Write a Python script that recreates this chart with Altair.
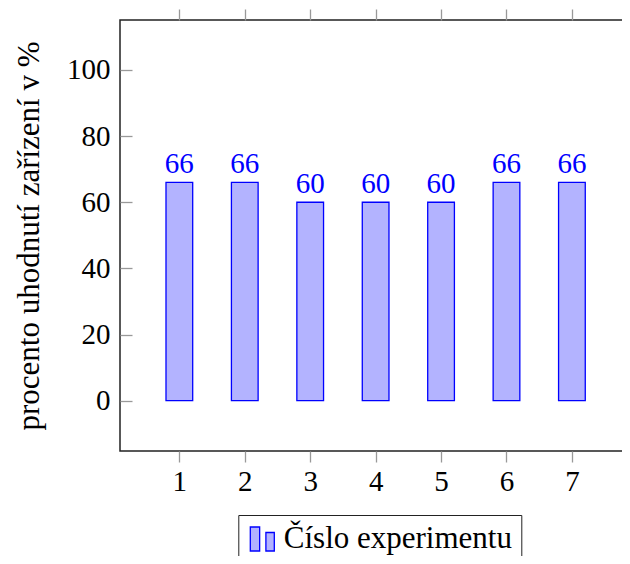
import altair as alt
import pandas as pd

experiments = [1, 2, 3, 4, 5, 6, 7]
percentages = [66, 66, 60, 60, 60, 66, 66]
series_name = "Číslo experimentu"
y_ticks = [0, 20, 40, 60, 80, 100]

df = pd.DataFrame({"exp": experiments, "pct": percentages, "series": [series_name] * len(experiments)})

FONT = "Liberation Serif"
FS = 29
xscale = alt.Scale(domain=[0.093, 8.01], nice=False, zero=False, padding=0)
yscale = alt.Scale(domain=[-15.2, 115.1], nice=False, zero=False)

legend_path = "M-1,-1H-0.22V1H-1Z M0.3,-0.54H1V1H0.3Z"

bars = alt.Chart(df).mark_bar(size=26.7, stroke="#0000ff", strokeWidth=1.3).encode(
    x=alt.X("exp:Q", scale=xscale,
            axis=alt.Axis(orient="bottom", values=experiments, format="d", tickSize=11,
                          tickColor="#999999", tickWidth=1.3, domain=False, grid=False,
                          labelPadding=5, labelFontSize=FS, labelFont=FONT, labelColor="black",
                          title=None)),
    y=alt.Y("pct:Q", scale=yscale,
            axis=alt.Axis(orient="left", values=y_ticks, offset=-12, tickSize=12,
                          tickColor="#999999", tickWidth=1.3, domain=False, grid=False,
                          labelPadding=10, labelFontSize=FS, labelFont=FONT, labelColor="black",
                          title="procento uhodnutí zařízení v %", titleFontSize=31,
                          titleFont=FONT, titleFontWeight="normal", titleColor="black",
                          titlePadding=21)),
    color=alt.Color("series:N", scale=alt.Scale(range=["#b3b3ff"]),
                    legend=alt.Legend(orient="none", legendX=118.3, legendY=495, title=None,
                                      symbolType=legend_path, symbolSize=576,
                                      symbolFillColor="#b3b3ff", symbolStrokeColor="#0000ff",
                                      symbolStrokeWidth=1.3, symbolOpacity=1,
                                      labelFont=FONT, labelFontSize=31, labelColor="black",
                                      labelLimit=0, labelOffset=6, padding=8.5,
                                      strokeColor="#222222")),
)

labels = alt.Chart(df).mark_text(baseline="alphabetic", dy=-9, color="#0000ff",
                                  fontSize=FS, font=FONT).encode(
    x=alt.X("exp:Q", scale=xscale,
            axis=alt.Axis(orient="top", values=experiments, tickSize=11, tickColor="#999999",
                          tickWidth=1.3, domain=False, grid=False, labels=False, title=None)),
    y=alt.Y("pct:Q", scale=yscale,
            axis=alt.Axis(orient="right", values=y_ticks, offset=-12, tickSize=12,
                          tickColor="#999999", tickWidth=1.3, domain=False, grid=False,
                          labels=False, title=None)),
    text=alt.Text("pct:Q", format="d"),
)

chart = alt.layer(bars, labels).resolve_axis(x="independent", y="independent").properties(
    width=518, height=431,
    autosize=alt.AutoSizeParams(type="none"),
    padding={"left": 112, "top": 12, "right": -16, "bottom": 105},
).configure(font=FONT).configure_view(stroke="#222222", strokeWidth=1.5)

chart.save("out.html", embed_options={"renderer": "svg", "actions": False})
